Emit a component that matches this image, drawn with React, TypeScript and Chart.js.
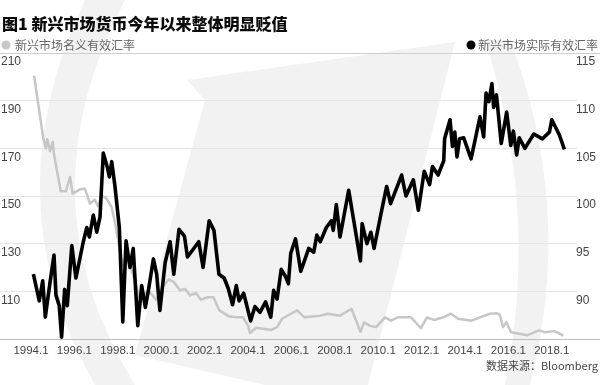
import React, { useEffect, useRef } from "react";
import { Chart, registerables } from "chart.js";

Chart.register(...registerables);

// ---- Data ----
const TITLE = "图1 新兴市场货币今年以来整体明显贬值";
const LEGEND_NOMINAL = "新兴市场名义有效汇率";
const LEGEND_REAL = "新兴市场实际有效汇率";
const SOURCE = "数据来源：Bloomberg";

const xTickYears = [1994, 1996, 1998, 2000, 2002, 2004, 2006, 2008, 2010, 2012, 2014, 2016, 2018];
const leftTicks = [110, 130, 150, 170, 190, 210];
const rightTicks = [90, 95, 100, 105, 110, 115];

// 新兴市场实际有效汇率 (right axis)
const realDates = [1994.11, 1994.38, 1994.54, 1994.66, 1994.88, 1995.06, 1995.15, 1995.30, 1995.41, 1995.55, 1995.67, 1995.88, 1996.07, 1996.41, 1996.57, 1996.69, 1996.87, 1997.03, 1997.18, 1997.33, 1997.52, 1997.61, 1997.72, 1997.87, 1998.07, 1998.23, 1998.38, 1998.56, 1998.71, 1998.92, 1999.10, 1999.27, 1999.41, 1999.64, 1999.79, 1999.94, 2000.18, 2000.41, 2000.58, 2000.82, 2001.07, 2001.21, 2001.73, 2001.93, 2002.21, 2002.43, 2002.66, 2002.90, 2003.09, 2003.29, 2003.46, 2003.59, 2003.80, 2004.12, 2004.32, 2004.55, 2004.81, 2005.05, 2005.18, 2005.34, 2005.53, 2005.74, 2005.86, 2005.97, 2006.19, 2006.43, 2006.80, 2007.03, 2007.17, 2007.33, 2007.61, 2007.84, 2007.93, 2008.07, 2008.24, 2008.64, 2009.18, 2009.26, 2009.48, 2009.66, 2009.81, 2010.16, 2010.39, 2010.57, 2011.08, 2011.28, 2011.62, 2011.85, 2012.12, 2012.37, 2012.50, 2012.76, 2013.02, 2013.06, 2013.31, 2013.42, 2013.53, 2013.63, 2013.75, 2013.94, 2014.28, 2014.69, 2014.86, 2014.97, 2015.10, 2015.24, 2015.32, 2015.45, 2015.67, 2015.92, 2016.11, 2016.23, 2016.38, 2016.50, 2016.76, 2017.17, 2017.57, 2017.89, 2018.00, 2018.35, 2018.58];
const realValues = [91.8, 89.0, 91.1, 87.3, 91.0, 93.8, 89.6, 88.5, 85.2, 90.2, 88.5, 94.8, 91.4, 95.2, 96.7, 95.7, 98.0, 96.2, 97.8, 104.5, 103.0, 102.0, 103.6, 101.0, 96.7, 86.8, 95.3, 92.5, 94.5, 86.4, 90.6, 88.3, 90.1, 93.4, 91.8, 88.0, 93.0, 95.2, 91.8, 96.5, 95.8, 93.6, 95.2, 92.5, 97.4, 96.4, 91.8, 91.4, 90.3, 88.6, 90.6, 89.0, 89.8, 86.9, 88.4, 87.8, 88.9, 87.3, 90.1, 89.2, 92.3, 91.5, 90.8, 94.0, 95.5, 92.1, 94.5, 94.1, 95.9, 95.2, 96.7, 97.4, 96.4, 99.1, 95.7, 100.6, 93.2, 97.1, 95.0, 96.2, 94.5, 98.5, 101.0, 99.2, 102.2, 100.0, 101.7, 98.5, 102.6, 101.2, 103.1, 102.2, 103.7, 106.0, 108.0, 105.2, 106.7, 104.1, 106.0, 106.1, 103.9, 108.3, 106.2, 110.8, 109.9, 111.8, 109.3, 110.6, 105.5, 108.8, 105.3, 106.8, 104.3, 106.1, 105.0, 106.5, 106.0, 106.7, 108.0, 106.4, 104.9];

// 新兴市场名义有效汇率 (left axis)
const nominalDates = [1994.14, 1994.57, 1994.69, 1994.75, 1994.88, 1995.00, 1995.06, 1995.37, 1995.61, 1995.80, 1995.92, 1996.26, 1996.49, 1996.72, 1996.93, 1997.08, 1997.26, 1997.46, 1997.71, 1997.89, 1998.08, 1998.24, 1998.40, 1998.63, 1999.02, 1999.25, 1999.41, 1999.76, 2000.04, 2000.34, 2000.57, 2000.87, 2001.10, 2001.33, 2001.60, 2001.83, 2002.13, 2002.41, 2002.68, 2003.12, 2003.48, 2003.77, 2004.00, 2004.09, 2004.37, 2005.08, 2005.34, 2005.57, 2006.26, 2006.60, 2007.32, 2007.69, 2008.24, 2008.77, 2009.18, 2009.35, 2009.62, 2009.90, 2010.31, 2010.59, 2010.91, 2011.51, 2011.97, 2012.24, 2012.57, 2013.00, 2013.35, 2013.68, 2014.31, 2014.69, 2015.15, 2015.47, 2015.61, 2015.75, 2015.91, 2016.12, 2016.88, 2017.41, 2017.69, 2018.10, 2018.31, 2018.53];
const nominalValues = [200.5, 174.1, 170.0, 173.8, 168.8, 172.7, 167.5, 152.0, 152.0, 158.0, 151.0, 152.8, 153.0, 146.8, 148.5, 145.8, 150.0, 149.2, 145.4, 138.0, 128.0, 121.0, 125.8, 119.0, 107.0, 108.9, 110.4, 106.5, 111.5, 115.0, 114.0, 110.4, 111.0, 108.3, 109.3, 106.5, 107.5, 107.5, 102.0, 99.5, 99.1, 99.1, 95.6, 92.5, 94.7, 93.8, 95.0, 98.5, 102.0, 99.1, 99.8, 100.6, 99.8, 102.7, 93.0, 97.0, 95.5, 95.0, 99.1, 97.7, 99.1, 99.1, 94.5, 99.0, 98.0, 99.1, 100.6, 98.5, 97.7, 99.1, 100.6, 100.8, 100.0, 95.0, 97.0, 92.8, 91.6, 93.6, 92.8, 93.3, 92.5, 91.4];

const LATIN = '"Liberation Sans", Arial, "Noto Sans CJK SC", sans-serif';
const CJK = '"Noto Sans CJK SC", "Liberation Sans", sans-serif';

export default function App() {
  const canvasRef = useRef<HTMLCanvasElement>(null);

  useEffect(() => {
    const canvas = canvasRef.current;
    if (!canvas) return;

    const decor = {
      id: "decor",
      beforeDraw(chart: any) {
        const ctx = chart.ctx as CanvasRenderingContext2D;
        ctx.save();
        ctx.fillStyle = "#ffffff";
        ctx.fillRect(0, 0, chart.width, chart.height);
        ctx.fillStyle = "#f2f2f2";
        // left crescent watermark
        ctx.beginPath();
        ctx.moveTo(85, 0);
        ctx.quadraticCurveTo(-10, 200, 95, 385);
        ctx.lineTo(135, 385);
        ctx.quadraticCurveTo(20, 200, 125, 0);
        ctx.closePath();
        ctx.fill();
        // middle shape
        ctx.beginPath();
        ctx.moveTo(187, 80);
        ctx.lineTo(455, 42);
        ctx.lineTo(368, 385);
        ctx.lineTo(265, 385);
        ctx.lineTo(135, 355);
        ctx.lineTo(205, 100);
        ctx.closePath();
        ctx.fill();
        // right crescent
        ctx.beginPath();
        ctx.moveTo(485, 40);
        ctx.quadraticCurveTo(540, 210, 505, 385);
        ctx.lineTo(530, 385);
        ctx.quadraticCurveTo(575, 210, 510, 40);
        ctx.closePath();
        ctx.fill();
        ctx.restore();
      },
      afterDraw(chart: any) {
        const ctx = chart.ctx as CanvasRenderingContext2D;
        const xS = chart.scales.x;
        const yL = chart.scales.yL;
        const yR = chart.scales.yR;
        ctx.save();
        // top & bottom rules
        ctx.strokeStyle = "#cfcfcf";
        ctx.lineWidth = 1;
        ctx.beginPath();
        ctx.moveTo(0, Math.round(yL.getPixelForValue(210)) + 0.5);
        ctx.lineTo(600, Math.round(yL.getPixelForValue(210)) + 0.5);
        ctx.stroke();
        ctx.strokeStyle = "#bdbdbd";
        ctx.beginPath();
        ctx.moveTo(0, Math.round(yL.getPixelForValue(90)) + 0.5);
        ctx.lineTo(600, Math.round(yL.getPixelForValue(90)) + 0.5);
        ctx.stroke();

        // title
        ctx.fillStyle = "#0a0a0a";
        ctx.textBaseline = "middle";
        ctx.textAlign = "left";
        ctx.font = `900 16px ${CJK}`;
        ctx.fillText(TITLE, 2, 24);

        // legend
        ctx.font = `12px ${CJK}`;
        ctx.fillStyle = "#c8c8c8";
        ctx.beginPath();
        ctx.arc(6, 45, 4.5, 0, Math.PI * 2);
        ctx.fill();
        ctx.fillStyle = "#666";
        ctx.fillText(LEGEND_NOMINAL, 15, 45);
        const w = ctx.measureText(LEGEND_REAL).width;
        ctx.textAlign = "right";
        ctx.fillText(LEGEND_REAL, 598, 45);
        ctx.fillStyle = "#000";
        ctx.beginPath();
        ctx.arc(598 - w - 7, 45, 4.5, 0, Math.PI * 2);
        ctx.fill();

        // y labels
        ctx.fillStyle = "#444";
        ctx.font = `12px ${LATIN}`;
        ctx.textAlign = "left";
        leftTicks.forEach((v) => ctx.fillText(String(v), 1, yL.getPixelForValue(v) + 9));
        rightTicks.forEach((v) => ctx.fillText(String(v), 576, yR.getPixelForValue(v) + 9));

        // x labels
        ctx.font = `11.5px ${LATIN}`;
        ctx.textAlign = "center";
        xTickYears.forEach((yr) => ctx.fillText(`${yr}.1`, xS.getPixelForValue(yr), 351));

        // source
        ctx.font = `11px ${CJK}`;
        ctx.textAlign = "right";
        ctx.fillText(SOURCE, 598, 366);
        ctx.restore();
      },
    };

    const chart = new Chart(canvas, {
      type: "line",
      data: {
        datasets: [
          {
            label: LEGEND_REAL,
            data: realDates.map((d, i) => ({ x: d, y: realValues[i] })),
            yAxisID: "yR",
            borderColor: "#000000",
            borderWidth: 3.6,
            pointRadius: 0,
            tension: 0,
            borderJoinStyle: "round",
            fill: false,
          },
          {
            label: LEGEND_NOMINAL,
            data: nominalDates.map((d, i) => ({ x: d, y: nominalValues[i] })),
            yAxisID: "yL",
            borderColor: "#c6c6c6",
            borderWidth: 2.5,
            pointRadius: 0,
            tension: 0,
            borderJoinStyle: "round",
            fill: false,
          },
        ],
      },
      options: {
        responsive: false,
        animation: false,
        devicePixelRatio: 1,
        events: [],
        layout: { padding: { left: 0, right: 23, top: 53, bottom: 46 } },
        plugins: {
          legend: { display: false },
          tooltip: { enabled: false },
          title: { display: false },
        },
        scales: {
          x: { type: "linear", display: false, min: 1992.571, max: 2019.161 },
          yL: {
            type: "linear",
            position: "left",
            min: 90,
            max: 210,
            ticks: { display: false, stepSize: 20 },
            grid: { color: "#e4e4e4", drawTicks: false, lineWidth: 1 },
            border: { display: false },
          },
          yR: { type: "linear", position: "right", display: false, min: 85, max: 115 },
        },
      },
      plugins: [decor],
    } as any);

    return () => chart.destroy();
  }, []);

  return (
    <div style={{ position: "absolute", left: 0, top: 0, width: 600, height: 385 }}>
      <canvas ref={canvasRef} width={600} height={385} style={{ display: "block" }} />
    </div>
  );
}
